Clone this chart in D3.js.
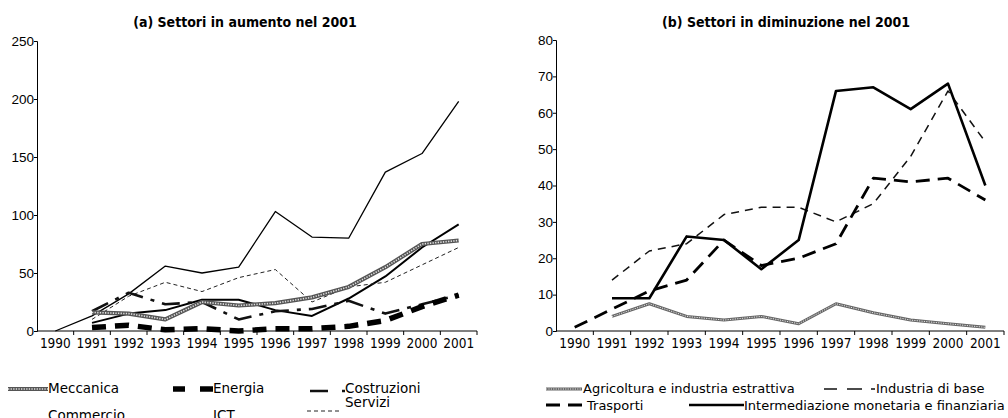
<!DOCTYPE html>
<html>
<head>
<meta charset="utf-8">
<script src="https://cdn.jsdelivr.net/npm/d3@7"></script>
<style>
  body { margin: 0; background: #fff; }
  svg { display: block; font-family: "DejaVu Sans Condensed", "DejaVu Sans", sans-serif; font-stretch: condensed; }
  .legend { font-family: "DejaVu Sans", sans-serif; font-stretch: normal; }
</style>
</head>
<body>
<div id="chart"></div>
<script>
// data
const years = ['1990', '1991', '1992', '1993', '1994', '1995', '1996', '1997', '1998', '1999', '2000', '2001'];

// (a) settori in aumento
const meccanica = [null, 16, 15, 10, 25, 22, 24, 29, 38, 55, 75, 78];
const energia = [null, 3, 5, 1, 2, 0, 2, 2, 4, 9, 21, 31];
const costruzioni = [null, 17, 33, 23, 25, 10, 17, 19, 26, 15, 23, 31];
const commercio = [0, 13, 32, 56, 50, 55, 103, 81, 80, 137, 153, 198];
const ict = [null, 7, 15, 18, 27, 27, 18, 13, 28, 47, 72, 92];
const servizi = [null, 10, 30, 42, 34, 46, 53, 25, 38, 42, 57, 72];
const ticksA = [0, 50, 100, 150, 200, 250];

// (b) settori in diminuzione
const agricoltura = [null, 4, 7.5, 4, 3, 4, 2, 7.5, 5, 3, 2, 1];
const industriaBase = [null, 14, 22, 24, 32, 34, 34, 30, 35, 48, 66, 52];
const trasporti = [1, 6, 11, 14, 25, 18, 20, 24, 42, 41, 42, 36];
const intermediazione = [null, 9, 9, 26, 25, 17, 25, 66, 67, 61, 68, 40];
const ticksB = [0, 10, 20, 30, 40, 50, 60, 70, 80];

const W = 1008, H = 418;

const svg = d3.select('#chart').append('svg')
    .attr('width', W)
    .attr('height', H);

// line styles
const styles = {
  hatched: {layers: [{stroke: '#555', width: 4.2}, {stroke: '#e0e0e0', width: 1.6, dash: '1.3,1.3'}]},
  hatchedThin: {layers: [{stroke: '#666', width: 3}, {stroke: '#e6e6e6', width: 1, dash: '1.2,1.2'}]},
  thickDash: {layers: [{stroke: '#000', width: 5.5, dash: '14,9'}]},
  dashDot: {layers: [{stroke: '#111', width: 2.6, dash: '18,8,4,8'}]},
  thin: {layers: [{stroke: '#000', width: 1.3}]},
  medium: {layers: [{stroke: '#000', width: 2}]},
  thinDash: {layers: [{stroke: '#222', width: 1, dash: '4,3'}]},
  dashSmall: {layers: [{stroke: '#111', width: 1.5, dash: '8,6'}]},
  longDash: {layers: [{stroke: '#000', width: 2.8, dash: '14,8'}]},
  solidBold: {layers: [{stroke: '#000', width: 2.6}]}
};

function drawPanel(opt) {
  const x = d3.scaleBand().domain(years).range([opt.x0, opt.x1]).padding(0);
  const y = d3.scaleLinear().domain([0, opt.max]).range([opt.y0, opt.y1]);
  const g = svg.append('g');

  g.append('text')
      .attr('x', opt.titleX)
      .attr('y', 27)
      .attr('text-anchor', 'middle')
      .attr('font-size', 14)
      .attr('font-weight', 'bold')
      .text(opt.title);

  // y axis
  const yAxis = g.append('g')
      .attr('transform', `translate(${opt.x0},0)`)
      .call(d3.axisLeft(y).tickValues(opt.ticks).tickSize(3).tickPadding(0));
  yAxis.selectAll('text').attr('font-size', 13.5).attr('fill', '#000')
      .attr('font-family', 'inherit');
  yAxis.selectAll('line, path').attr('stroke', '#000');

  // x axis: ticks at band boundaries, labels in band centres
  const xg = g.append('g');
  xg.append('line')
      .attr('x1', opt.x0).attr('x2', opt.x1)
      .attr('y1', opt.y0).attr('y2', opt.y0)
      .attr('stroke', '#000');
  xg.selectAll('line.tk')
      .data(years.slice(1).concat(['end']))
      .join('line')
      .attr('class', 'tk')
      .attr('x1', (d) => d === 'end' ? opt.x1 : x(d))
      .attr('x2', (d) => d === 'end' ? opt.x1 : x(d))
      .attr('y1', opt.y0)
      .attr('y2', opt.y0 + 4)
      .attr('stroke', '#000');
  xg.selectAll('text')
      .data(years)
      .join('text')
      .attr('x', (d) => x(d) + x.bandwidth() / 2)
      .attr('y', opt.y0 + 17)
      .attr('text-anchor', 'middle')
      .attr('font-size', 13.5)
      .text((d) => d);

  const line = d3.line()
      .defined((d) => d != null)
      .x((d, i) => x(years[i]) + x.bandwidth() / 2)
      .y((d) => y(d));

  opt.series.forEach((s) => {
    styles[s.style].layers.forEach((l) => {
      g.append('path')
          .datum(s.values)
          .attr('fill', 'none')
          .attr('stroke', l.stroke)
          .attr('stroke-width', l.width)
          .attr('stroke-dasharray', l.dash || null)
          .attr('stroke-linejoin', 'round')
          .attr('d', line);
    });
  });

  // legend
  opt.series.forEach((s) => {
    const lg = s.legend;
    if (lg.sx0 != null) {
      styles[s.style].layers.forEach((l) => {
        g.append('line')
            .attr('x1', lg.sx0).attr('x2', lg.sx1)
            .attr('y1', lg.sy).attr('y2', lg.sy)
            .attr('stroke', l.stroke)
            .attr('stroke-width', l.width)
            .attr('stroke-dasharray', lg.dash || l.dash || null);
      });
    }
    g.append('text')
        .attr('class', 'legend')
        .attr('x', lg.tx)
        .attr('y', lg.ty)
        .attr('font-size', opt.legendSize)
        .text(s.name);
  });
}

drawPanel({
  title: '(a) Settori in aumento nel 2001',
  titleX: 245,
  x0: 37, x1: 477, y0: 331, y1: 41, max: 250,
  ticks: ticksA,
  legendSize: 13.5,
  series: [
    {name: 'Commercio', values: commercio, style: 'thin', legend: {tx: 48, ty: 420}},
    {name: 'ICT', values: ict, style: 'medium', legend: {tx: 213, ty: 420}},
    {name: 'Servizi', values: servizi, style: 'thinDash', legend: {sx0: 307, sx1: 341, sy: 411, tx: 345, ty: 407}},
    {name: 'Costruzioni', values: costruzioni, style: 'dashDot', legend: {sx0: 310, sx1: 345, sy: 391, tx: 345, ty: 393, dash: '18,14,3,9'}},
    {name: 'Meccanica', values: meccanica, style: 'hatched', legend: {sx0: 8, sx1: 48, sy: 389, tx: 48, ty: 393}},
    {name: 'Energia', values: energia, style: 'thickDash', legend: {sx0: 173, sx1: 213, sy: 389, tx: 213, ty: 393, dash: '12,15,13'}}
  ]
});

drawPanel({
  title: '(b) Settori in diminuzione nel 2001',
  titleX: 786,
  x0: 556, x1: 1004, y0: 331, y1: 40, max: 80,
  ticks: ticksB,
  legendSize: 13,
  series: [
    {name: 'Agricoltura e industria estrattiva', values: agricoltura, style: 'hatchedThin', legend: {sx0: 546, sx1: 582, sy: 389, tx: 583, ty: 393}},
    {name: 'Industria di base', values: industriaBase, style: 'dashSmall', legend: {sx0: 824, sx1: 875, sy: 389, tx: 876, ty: 393, dash: '13,10,15,9,4'}},
    {name: 'Trasporti', values: trasporti, style: 'longDash', legend: {sx0: 546, sx1: 584, sy: 405, tx: 587, ty: 410, dash: '14,8'}},
    {name: 'Intermediazione monetaria e finanziaria', values: intermediazione, style: 'solidBold', legend: {sx0: 689, sx1: 744, sy: 405, tx: 744, ty: 410}}
  ]
});
</script>
</body>
</html>
